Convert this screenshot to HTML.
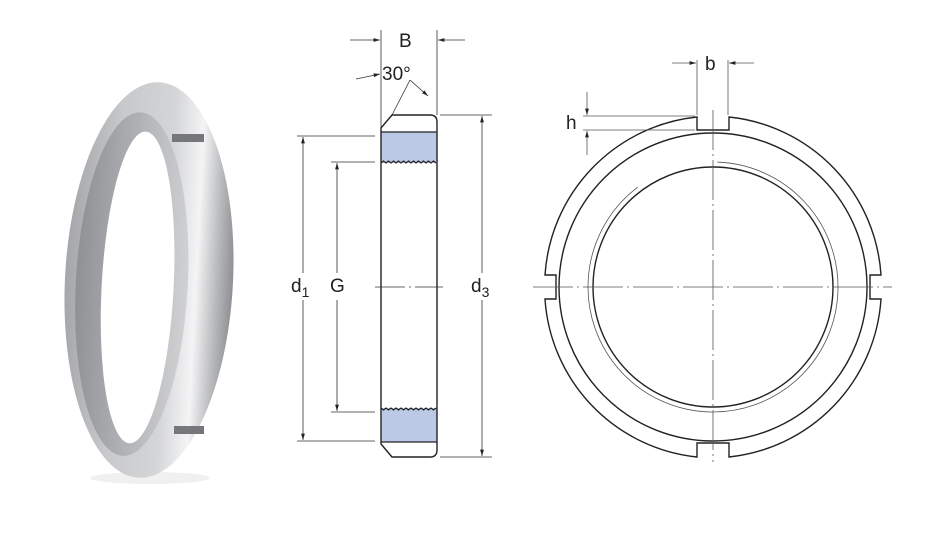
<!DOCTYPE html>
<html><head><meta charset="utf-8"><style>
html,body{margin:0;padding:0;background:#fff;}
svg{display:block;font-family:"Liberation Sans",sans-serif;}
</style></head><body>
<svg width="939" height="538" viewBox="0 0 939 538" xmlns="http://www.w3.org/2000/svg">
<defs>
<linearGradient id="rim" x1="0" x2="1" y1="0" y2="0">
<stop offset="0" stop-color="#a4a6a9"/><stop offset="0.3" stop-color="#c8c9cb"/><stop offset="0.6" stop-color="#d4d5d7"/><stop offset="0.78" stop-color="#f4f4f5"/><stop offset="0.9" stop-color="#b8babc"/><stop offset="1" stop-color="#8e9093"/>
</linearGradient>
<linearGradient id="thr" x1="0" x2="1">
<stop offset="0" stop-color="#8f9194"/><stop offset="0.5" stop-color="#b0b2b5"/><stop offset="1" stop-color="#d0d1d3"/>
</linearGradient>
<marker id="a" viewBox="0 0 10 10" refX="10" refY="5" markerWidth="8" markerHeight="8" orient="auto-start-reverse"><path d="M0,2 L10,5 L0,8z" fill="#222"/></marker>
</defs>
<!-- photo ring -->
<ellipse cx="150" cy="478" rx="60" ry="6" fill="#f0f0f0"/>
<g transform="rotate(3 149 280)">
<ellipse cx="149" cy="280" rx="84" ry="198" fill="url(#rim)"/>
<ellipse cx="132" cy="285" rx="56" ry="172" fill="url(#thr)"/>
<ellipse cx="138" cy="288" rx="36" ry="156" fill="#fff"/>
</g>
<rect x="172" y="134" width="32" height="8" fill="#75777a"/>
<rect x="174" y="426" width="30" height="8" fill="#75777a"/>
<!-- section view -->
<g stroke="#222" fill="none" stroke-width="1.2">
<rect x="381" y="132" width="56" height="31" fill="#bcc9e6" stroke="none"/>
<rect x="381" y="408" width="56" height="34" fill="#bcc9e6" stroke="none"/>
<path d="M381,128 L392,115 L430,115 Q437,115 437,122 L437,450 Q437,457 430,457 L392,457 L381,444 Z" stroke-width="1.4"/>
<line x1="381" y1="132" x2="437" y2="132"/>
<line x1="381" y1="442" x2="437" y2="442"/>
<path d="M381,163 l2.5,-2 l2.5,2 l2.5,-2 l2.5,2 l2.5,-2 l2.5,2 l2.5,-2 l2.5,2 l2.5,-2 l2.5,2 l2.5,-2 l2.5,2 l2.5,-2 l2.5,2 l2.5,-2 l2.5,2 l2.5,-2 l2.5,2 l2.5,-2 l2.5,2 l2.5,-2 l2.5,2"/>
<path d="M381,408 l2.5,2 l2.5,-2 l2.5,2 l2.5,-2 l2.5,2 l2.5,-2 l2.5,2 l2.5,-2 l2.5,2 l2.5,-2 l2.5,2 l2.5,-2 l2.5,2 l2.5,-2 l2.5,2 l2.5,-2 l2.5,2 l2.5,-2 l2.5,2 l2.5,-2 l2.5,2 l2.5,-2"/>
</g>
<g stroke="#333" stroke-width="0.8" fill="none">
<line x1="381" y1="30" x2="381" y2="128"/><line x1="437" y1="30" x2="437" y2="115"/>
<line x1="350" y1="40" x2="380" y2="40" marker-end="url(#a)"/><line x1="465" y1="40" x2="438" y2="40" marker-end="url(#a)"/>
<line x1="356" y1="79" x2="380" y2="74" marker-end="url(#a)"/>
<line x1="392" y1="115" x2="410" y2="80"/><line x1="410" y1="80" x2="428" y2="96" marker-end="url(#a)"/>
<line x1="297" y1="136" x2="375" y2="136"/><line x1="297" y1="441" x2="375" y2="441"/>
<line x1="303" y1="137" x2="303" y2="273" marker-start="url(#a)"/><line x1="303" y1="300" x2="303" y2="440" marker-end="url(#a)"/>
<line x1="331" y1="162" x2="375" y2="162"/><line x1="331" y1="412" x2="375" y2="412"/>
<line x1="337" y1="163" x2="337" y2="273" marker-start="url(#a)"/><line x1="337" y1="300" x2="337" y2="411" marker-end="url(#a)"/>
<line x1="440" y1="115" x2="492" y2="115"/><line x1="440" y1="457" x2="492" y2="457"/>
<line x1="482" y1="116" x2="482" y2="273" marker-start="url(#a)"/><line x1="482" y1="300" x2="482" y2="456" marker-end="url(#a)"/>
<line x1="375" y1="287" x2="443" y2="287" stroke-dasharray="30,4,2,4"/>
</g>
<g fill="#222" font-size="19">
<text x="399" y="47">B</text>
<text x="382" y="80">30°</text>
<text x="291" y="292">d<tspan font-size="14" dy="5">1</tspan></text>
<text x="330" y="292">G</text>
<text x="471" y="292">d<tspan font-size="14" dy="5">3</tspan></text>
<text x="705" y="70">b</text>
<text x="566" y="129">h</text>
</g>
<!-- front view -->
<g stroke="#222" fill="none" stroke-width="1.4">
<path d="M697,117 A170,170 0 0 0 545,275 L556,275 L556,299 L545,299 A170,170 0 0 0 697,457 L697,443 L729,443 L729,457 A170,170 0 0 0 881,299 L870,299 L870,275 L881,275 A170,170 0 0 0 729,117 L729,130 L697,130 Z"/>
<circle cx="713" cy="287" r="154"/>
<circle cx="713" cy="287" r="120"/>
</g>
<g stroke="#555" fill="none" stroke-width="0.8">
<circle cx="713" cy="287" r="125" stroke-dasharray="700,85" transform="rotate(-88 713 287)"/>
<line x1="533" y1="287" x2="892" y2="287" stroke-dasharray="40,4,2,4"/>
<line x1="713" y1="110" x2="713" y2="462" stroke-dasharray="40,4,2,4"/>
<line x1="697" y1="60" x2="697" y2="115"/><line x1="728" y1="60" x2="728" y2="115"/>
<line x1="672" y1="63" x2="696" y2="63" marker-end="url(#a)"/><line x1="754" y1="63" x2="729" y2="63" marker-end="url(#a)"/>
<line x1="583" y1="116" x2="695" y2="116"/><line x1="583" y1="130" x2="695" y2="130"/>
<line x1="587" y1="92" x2="587" y2="115" marker-end="url(#a)"/><line x1="587" y1="155" x2="587" y2="131" marker-end="url(#a)"/>
</g>
</svg>
</body></html>
